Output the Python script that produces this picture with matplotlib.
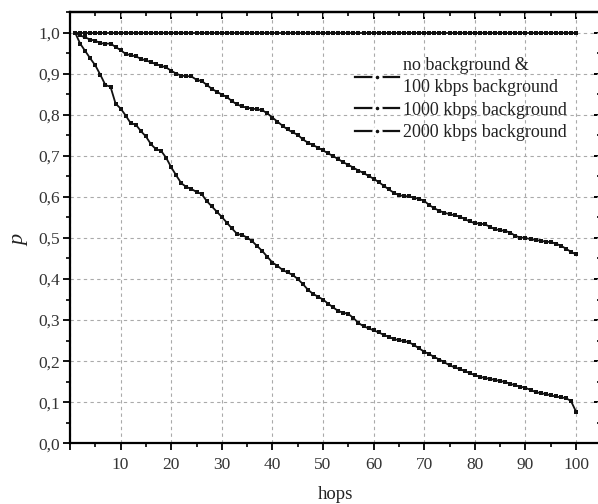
import matplotlib
matplotlib.use("Agg")
import matplotlib.pyplot as plt
from matplotlib.lines import Line2D
from matplotlib.ticker import MultipleLocator, FuncFormatter, NullFormatter

hops = list(range(1, 101))

p_no_bg_100 = [1.0] * 100

p_1000 = [1.000, 0.993, 0.988, 0.983, 0.980, 0.974, 0.973, 0.973, 0.965, 0.957,
          0.948, 0.945, 0.942, 0.936, 0.932, 0.928, 0.923, 0.919, 0.915, 0.907,
          0.900, 0.895, 0.894, 0.893, 0.885, 0.882, 0.873, 0.863, 0.856, 0.849,
          0.843, 0.833, 0.825, 0.820, 0.817, 0.815, 0.813, 0.811, 0.803, 0.793,
          0.783, 0.773, 0.764, 0.757, 0.751, 0.740, 0.732, 0.726, 0.720, 0.713,
          0.706, 0.699, 0.692, 0.684, 0.678, 0.671, 0.664, 0.658, 0.651, 0.644,
          0.636, 0.627, 0.618, 0.610, 0.604, 0.602, 0.601, 0.598, 0.595, 0.590,
          0.580, 0.572, 0.566, 0.561, 0.558, 0.555, 0.552, 0.546, 0.540, 0.536,
          0.535, 0.533, 0.527, 0.521, 0.519, 0.517, 0.513, 0.505, 0.501, 0.500,
          0.497, 0.495, 0.493, 0.491, 0.490, 0.486, 0.481, 0.474, 0.466, 0.460]

p_2000 = [1.000, 0.973, 0.955, 0.937, 0.920, 0.897, 0.872, 0.868, 0.827, 0.815,
          0.798, 0.779, 0.776, 0.760, 0.747, 0.728, 0.716, 0.712, 0.695, 0.672,
          0.652, 0.633, 0.624, 0.619, 0.612, 0.607, 0.590, 0.577, 0.564, 0.551,
          0.537, 0.523, 0.510, 0.507, 0.501, 0.492, 0.480, 0.468, 0.454, 0.440,
          0.432, 0.422, 0.416, 0.410, 0.400, 0.388, 0.374, 0.364, 0.357, 0.350,
          0.340, 0.331, 0.322, 0.318, 0.315, 0.305, 0.293, 0.285, 0.280, 0.275,
          0.270, 0.264, 0.259, 0.254, 0.251, 0.249, 0.246, 0.239, 0.231, 0.223,
          0.217, 0.210, 0.204, 0.197, 0.190, 0.185, 0.181, 0.176, 0.171, 0.166,
          0.162, 0.159, 0.157, 0.154, 0.152, 0.149, 0.145, 0.141, 0.138, 0.135,
          0.130, 0.125, 0.122, 0.120, 0.117, 0.114, 0.112, 0.110, 0.103, 0.077]

labels = ["no background &\n100 kbps background",
          "1000 kbps background",
          "2000 kbps background"]

plt.rcParams['font.family'] = ['Liberation Serif', 'DejaVu Serif']

fig = plt.figure(figsize=(5.98, 5.04), dpi=100)
ax = fig.add_axes([0.1171, 0.1204, 0.8885, 0.8558])

for series in (p_no_bg_100, p_1000, p_2000):
    ax.plot(hops, series, color='#111111', linewidth=1.3, marker='s',
            markersize=2.4, markeredgewidth=0, zorder=3)

ax.set_xlim(0, 105)
ax.set_ylim(0, 1.05)
ax.xaxis.set_major_locator(MultipleLocator(10))
ax.xaxis.set_minor_locator(MultipleLocator(5))
ax.yaxis.set_major_locator(MultipleLocator(0.1))
ax.yaxis.set_minor_locator(MultipleLocator(0.05))
ax.xaxis.set_major_formatter(FuncFormatter(lambda v, pos: "" if v == 0 else f"{v:.0f}"))
ax.yaxis.set_major_formatter(FuncFormatter(lambda v, pos: f"{v:.1f}".replace('.', ',')))

ax.grid(True, which='major', color='#aaaaaa', linestyle=(0, (3, 3)), linewidth=0.8)
ax.set_axisbelow(True)

for s in ax.spines.values():
    s.set_linewidth(1.6)

ax.tick_params(axis='both', which='major', direction='out', length=5, width=1.4,
               labelsize=12.5, colors='#111111', labelcolor='#333333')
ax.tick_params(axis='both', which='minor', direction='out', length=3, width=1.2)
ax.tick_params(axis='x', which='major', pad=5)
ax.tick_params(axis='y', which='major', pad=2)

# top and right axes with inward ticks
top = ax.secondary_xaxis('top')
top.xaxis.set_major_locator(MultipleLocator(10))
top.xaxis.set_minor_locator(MultipleLocator(5))
top.xaxis.set_major_formatter(NullFormatter())
top.tick_params(axis='x', which='major', direction='in', length=5, width=1.4)
top.tick_params(axis='x', which='minor', direction='in', length=3, width=1.2)
top.spines['top'].set_linewidth(1.6)

right = ax.secondary_yaxis('right')
right.yaxis.set_major_locator(MultipleLocator(0.1))
right.yaxis.set_minor_locator(MultipleLocator(0.05))
right.yaxis.set_major_formatter(NullFormatter())
right.tick_params(axis='y', which='major', direction='in', length=5, width=1.4)
right.tick_params(axis='y', which='minor', direction='in', length=3, width=1.2)

ax.set_xlabel("hops", fontsize=13.5, color='#222222')
ax.xaxis.set_label_coords(0.499, -0.099)
ax.set_ylabel("p", fontsize=16, style='italic', color='#222222')
ax.yaxis.set_label_coords(-0.076, 0.471)

handles = [Line2D([0], [0], color='#111111', linewidth=1.6, marker='o',
                  markersize=5, markerfacecolor='#111111',
                  markeredgecolor='white', markeredgewidth=2.4)
           for _ in labels]
leg = ax.legend(handles, labels, loc='upper left', bbox_to_anchor=(0.513, 0.926),
                frameon=False, fontsize=13, handlelength=2.4, handletextpad=0.25,
                labelspacing=0.3, numpoints=1, borderaxespad=0.3)
for t in leg.get_texts():
    t.set_color('#222222')
    t.set_linespacing(1.45)

fig.savefig("out.png", dpi=100)
